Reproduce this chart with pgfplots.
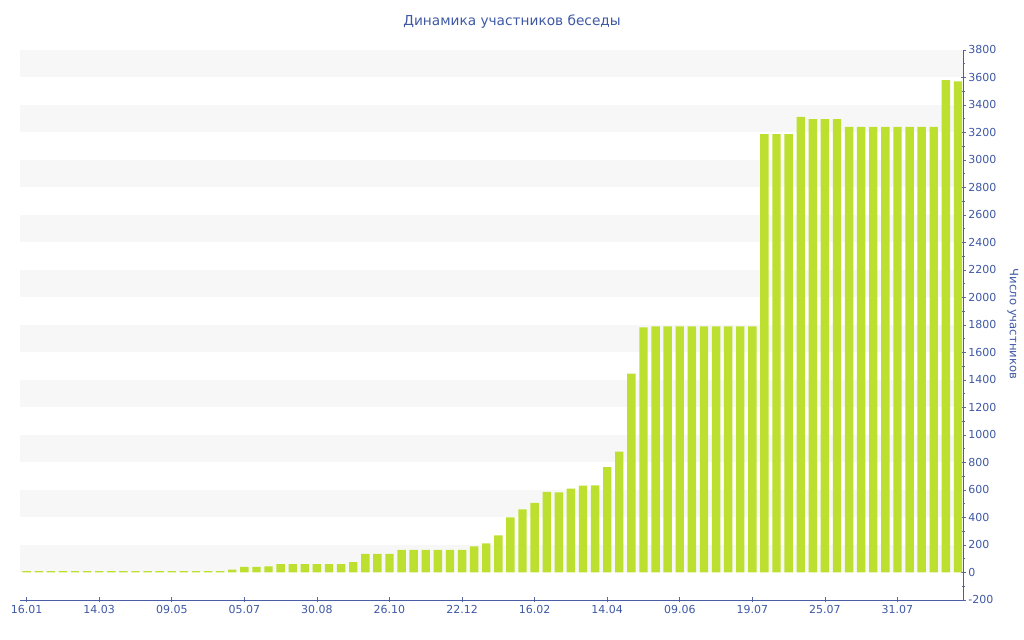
\documentclass[border=0pt]{standalone}
\usepackage{pgfplots}
\pgfplotsset{compat=1.18}
\usepackage{fontspec}
\setmainfont{DejaVu Sans}
\definecolor{txt}{HTML}{3E58A4}
\definecolor{barc}{HTML}{BDE030}
\definecolor{band}{HTML}{F7F7F7}
\definecolor{axc}{HTML}{4A5EA8}
\begin{document}
\begin{tikzpicture}
\begin{axis}[
  scale only axis,
  width=943.3pt, height=550pt,
  xmin=-0.55, xmax=77.44, ymin=-200, ymax=3800,
  axis x line*=bottom, axis y line*=right,
  axis line style={color=axc, line width=0.8pt},
  xtick={0,6,...,72},
  xticklabels={16.01,14.03,09.05,05.07,30.08,26.10,22.12,16.02,14.04,09.06,19.07,25.07,31.07},
  ytick={-200,0,...,3800},
  minor y tick num=1,
  tick align=center,
  major tick length=5pt, minor tick length=3pt,
  every tick/.style={color=axc!70!gray, line width=0.6pt},
  tick label style={font=\fontsize{11}{13}\selectfont, text=txt},
  yticklabel style={anchor=west, xshift=-1pt},
  xticklabel style={yshift=1pt},
  /pgf/number format/assume math mode=true,
  /pgf/number format/set thousands separator={},
  clip=false,
]
\fill[band] (axis cs:-0.55,0) rectangle (axis cs:77.44,200);
\fill[band] (axis cs:-0.55,400) rectangle (axis cs:77.44,600);
\fill[band] (axis cs:-0.55,800) rectangle (axis cs:77.44,1000);
\fill[band] (axis cs:-0.55,1200) rectangle (axis cs:77.44,1400);
\fill[band] (axis cs:-0.55,1600) rectangle (axis cs:77.44,1800);
\fill[band] (axis cs:-0.55,2000) rectangle (axis cs:77.44,2200);
\fill[band] (axis cs:-0.55,2400) rectangle (axis cs:77.44,2600);
\fill[band] (axis cs:-0.55,2800) rectangle (axis cs:77.44,3000);
\fill[band] (axis cs:-0.55,3200) rectangle (axis cs:77.44,3400);
\fill[band] (axis cs:-0.55,3600) rectangle (axis cs:77.44,3800);
\addplot[ybar, bar width=8.4pt, fill=barc, draw=none] coordinates {
(0,10) (1,10) (2,10) (3,10) (4,10) (5,10) (6,10) (7,10) (8,10) (9,10)
(10,10) (11,10) (12,10) (13,10) (14,10) (15,10) (16,10) (17,20) (18,40) (19,40)
(20,45) (21,60) (22,60) (23,60) (24,60) (25,60) (26,60) (27,75) (28,136) (29,136)
(30,136) (31,165) (32,165) (33,165) (34,165) (35,165) (36,165) (37,189) (38,211) (39,270)
(40,400) (41,459) (42,507) (43,587) (44,582) (45,609) (46,631) (47,633) (48,767) (49,879)
(50,1447) (51,1783) (52,1789) (53,1789) (54,1789) (55,1789) (56,1789) (57,1789) (58,1789) (59,1789)
(60,1789) (61,3188) (62,3188) (63,3188) (64,3313) (65,3298) (66,3298) (67,3298) (68,3240) (69,3240)
(70,3240) (71,3240) (72,3240) (73,3240) (74,3240) (75,3240) (76,3580) (77,3572)
};
\node[text=txt, font=\fontsize{13.7}{16}\selectfont] at (axis cs:40.13,4003.6) {Динамика участников беседы};
\node[text=txt, font=\fontsize{11.6}{13}\selectfont, rotate=-90] at (axis cs:81.55,1807) {Число участников};
\coordinate (PBL) at (axis cs:-2.2036,-490.9);
\coordinate (PTR) at (axis cs:82.4621,4163.6);
\end{axis}
\pgfresetboundingbox
\useasboundingbox (PBL) rectangle (PTR);
\end{tikzpicture}
\end{document}
